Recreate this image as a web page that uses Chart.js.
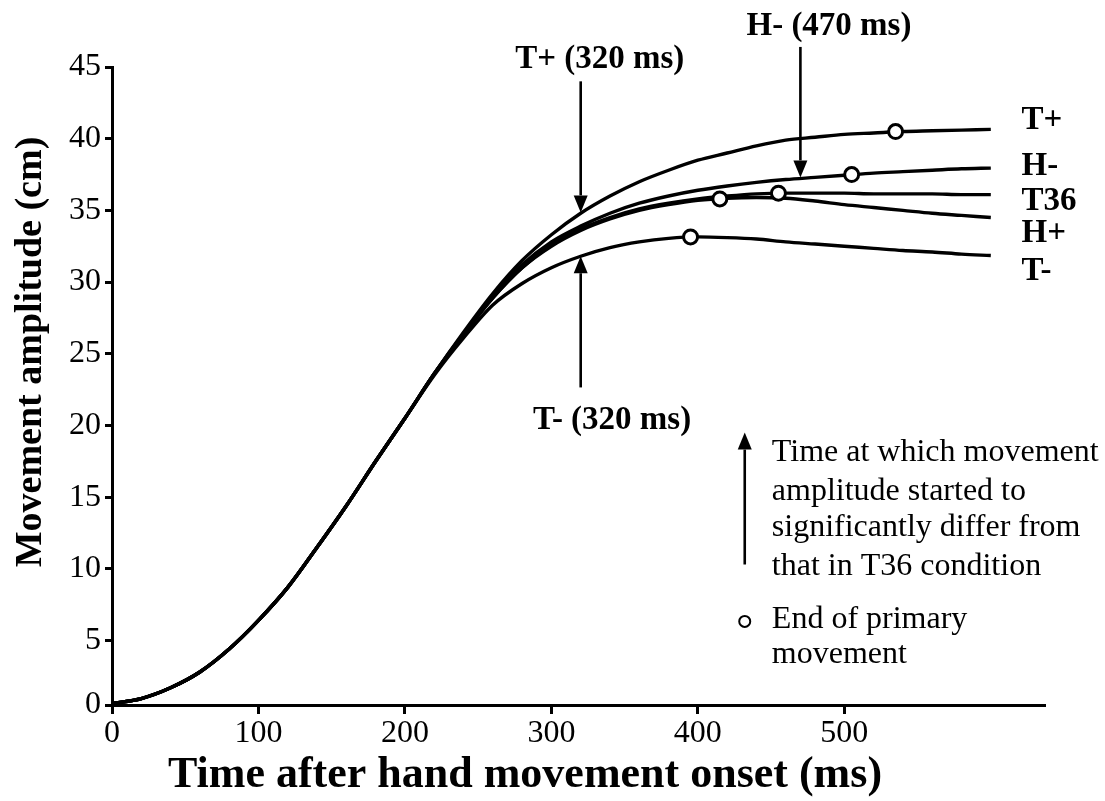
<!DOCTYPE html>
<html>
<head>
<meta charset="utf-8">
<script src="https://cdn.jsdelivr.net/npm/chart.js@4.4.1/dist/chart.umd.min.js"></script>
<style>
  html, body { margin: 0; padding: 0; background: #ffffff; }
  #wrap { width: 1105px; height: 801px; position: relative; }
</style>
</head>
<body>
<div id="wrap"><canvas id="c"></canvas></div>
<script>
// ---- data ----
const timeMs = [0,20,40,60,80,100,120,140,160,180,200,220,240,260,280,300,320,340,360,380,400,420,440,460,480,500,520,540,560,580,600];
const tPlus  = [0.6,0.95,1.7,2.8,4.4,6.4,8.7,11.5,14.4,17.5,20.5,23.6,26.5,29.2,31.5,33.3,34.8,36.0,37.0,37.8,38.5,39.0,39.5,39.9,40.1,40.3,40.4,40.5,40.55,40.6,40.65];
const hMinus = [0.6,0.95,1.7,2.8,4.4,6.4,8.7,11.5,14.4,17.5,20.5,23.6,26.4,29.0,31.2,32.8,33.9,34.8,35.5,36.0,36.4,36.7,36.95,37.15,37.3,37.45,37.6,37.7,37.8,37.9,37.95];
const t36    = [0.6,0.95,1.7,2.8,4.4,6.4,8.7,11.5,14.4,17.5,20.5,23.6,26.4,28.9,31.0,32.6,33.7,34.5,35.1,35.5,35.8,36.0,36.15,36.2,36.2,36.2,36.15,36.15,36.15,36.1,36.1];
const hPlus  = [0.6,0.95,1.7,2.8,4.4,6.4,8.7,11.5,14.4,17.5,20.5,23.6,26.3,28.9,31.0,32.5,33.6,34.4,35.0,35.4,35.7,35.85,35.9,35.85,35.65,35.4,35.2,35.0,34.8,34.65,34.5];
const tMinus = [0.6,0.95,1.7,2.8,4.4,6.4,8.7,11.5,14.4,17.5,20.5,23.5,26.1,28.4,29.9,31.0,31.8,32.4,32.8,33.05,33.15,33.1,33.0,32.8,32.65,32.5,32.35,32.2,32.1,31.95,31.85];

const seriesNames = ['T+','H-','T36','H+','T-'];
const endTimes  = [535, 505, 455, 415, 395];        // end of primary movement (ms)
const endValues = [40.5, 37.5, 36.2, 35.8, 33.15];  // amplitude at that time (cm)

const xTickValues = [0,100,200,300,400,500];
const yTickValues = [0.5,5,10,15,20,25,30,35,40,45];
const yTickLabels = ['0','5','10','15','20','25','30','35','40','45'];

// significance times (arrows)
const sigLabels = ['T+ (320 ms)','H- (470 ms)','T- (320 ms)'];
const sigTimes  = [320, 470, 320];

const xTitle = 'Time after hand movement onset (ms)';
const yTitle = 'Movement amplitude (cm)';

// ---- layout / annotation configuration ----
const FONT = '"Liberation Serif", "Times New Roman", Times, serif';
const arrows = [
  { t: 320, from: 44.0, to: 34.86 },
  { t: 470, from: 46.4, to: 37.3 },
  { t: 320, from: 22.65, to: 31.8 },
  { t: 432, from: 10.3, to: 19.5 }
];
const sigTextPos = [ { t: 333, v: 45.55 }, { t: 489.5, v: 47.8 }, { t: 341.4, v: 20.35 } ];
const endLabelPos = { t: 621, v: [41.3, 38.07, 35.6, 33.4, 30.75] };
const legendLines = ['Time at which movement','amplitude started to','significantly differ from','that in T36 condition'];
const legendLineV = [18.12, 15.39, 12.88, 10.16];
const legendCircle = { t: 432, v: 6.33 };
const legendCircleText = ['End of primary','movement'];
const legendCircleTextV = [6.46, 4.02];
const legendTextT = 450.5;
const titlePos = { x: { cx: 525, cy: 776, size: 44 }, y: { cx: 31, cy: 352, size: 38 } };

function pts(vals) { return timeMs.map((t, i) => ({ x: t, y: vals[i] })); }

const seriesValues = [tPlus, hMinus, t36, hPlus, tMinus];
const datasets = [{
  label: 'End of primary movement',
  data: endTimes.map((t, i) => ({ x: t, y: endValues[i] })),
  showLine: false,
  pointRadius: 7,
  pointBorderWidth: 3,
  pointBackgroundColor: '#ffffff',
  pointBorderColor: '#000000',
  order: 0
}].concat(seriesValues.map((vals, i) => ({
  label: seriesNames[i],
  data: pts(vals),
  borderColor: '#000000',
  borderWidth: 3.4,
  pointRadius: 0,
  fill: false,
  cubicInterpolationMode: 'monotone',
  order: 1
})));

const annotate = {
  id: 'annotate',
  afterDraw(chart) {
    const ctx = chart.ctx, xs = chart.scales.x, ys = chart.scales.y;
    const X = t => xs.getPixelForValue(t), Y = v => ys.getPixelForValue(v);
    ctx.save();
    ctx.fillStyle = '#000'; ctx.strokeStyle = '#000';
    // axis titles
    ctx.textAlign = 'center'; ctx.textBaseline = 'middle';
    ctx.font = 'bold ' + titlePos.x.size + 'px ' + FONT;
    ctx.fillText(xTitle, titlePos.x.cx, titlePos.x.cy);
    ctx.save();
    ctx.translate(titlePos.y.cx, titlePos.y.cy);
    ctx.rotate(-Math.PI / 2);
    ctx.font = 'bold ' + titlePos.y.size + 'px ' + FONT;
    ctx.fillText(yTitle, 0, 0);
    ctx.restore();
    // arrows
    arrows.forEach(a => {
      const x = X(a.t), y0 = Y(a.from), y1 = Y(a.to);
      const dir = y1 > y0 ? 1 : -1;
      const headL = 17, headW = 7;
      ctx.lineWidth = 2.6;
      ctx.beginPath(); ctx.moveTo(x, y0); ctx.lineTo(x, y1 - dir * headL); ctx.stroke();
      ctx.beginPath();
      ctx.moveTo(x, y1);
      ctx.lineTo(x - headW, y1 - dir * headL);
      ctx.lineTo(x + headW, y1 - dir * headL);
      ctx.closePath(); ctx.fill();
    });
    // significance labels
    ctx.font = 'bold 33px ' + FONT;
    ctx.textAlign = 'center'; ctx.textBaseline = 'middle';
    sigLabels.forEach((s, i) => ctx.fillText(s, X(sigTextPos[i].t), Y(sigTextPos[i].v)));
    // series end labels
    ctx.textAlign = 'left';
    seriesNames.forEach((s, i) => ctx.fillText(s, X(endLabelPos.t), Y(endLabelPos.v[i])));
    // legend
    ctx.font = '32px ' + FONT;
    legendLines.forEach((s, i) => ctx.fillText(s, X(legendTextT), Y(legendLineV[i])));
    legendCircleText.forEach((s, i) => ctx.fillText(s, X(legendTextT), Y(legendCircleTextV[i])));
    ctx.beginPath();
    ctx.lineWidth = 2;
    ctx.fillStyle = '#fff';
    ctx.arc(X(legendCircle.t), Y(legendCircle.v), 5.5, 0, Math.PI * 2);
    ctx.fill(); ctx.stroke();
    ctx.restore();
  }
};

new Chart(document.getElementById('c'), {
  type: 'line',
  data: { datasets },
  options: {
    responsive: true,
    maintainAspectRatio: false,
    animation: false,
    layout: { padding: { top: 67, right: 60, left: 0, bottom: 0 } },
    plugins: { legend: { display: false }, tooltip: { enabled: false } },
    scales: {
      x: {
        type: 'linear', min: 0, max: 637,
        afterBuildTicks: s => { s.ticks = xTickValues.map(v => ({ value: v })); },
        afterFit: s => { s.height = 96; },
        ticks: { color: '#000', font: { family: FONT, size: 32 }, padding: 0, maxRotation: 0 },
        grid: { drawOnChartArea: false, drawTicks: true, tickLength: 9, tickWidth: 3, tickColor: '#000' },
        border: { color: '#000', width: 3 },
        title: { display: false, text: xTitle }
      },
      y: {
        type: 'linear', min: 0.5, max: 45,
        afterBuildTicks: s => { s.ticks = yTickValues.map(v => ({ value: v })); },
        afterFit: s => { s.width = 112; },
        ticks: { color: '#000', font: { family: FONT, size: 32 }, padding: 4,
                 callback: (v) => yTickLabels[yTickValues.indexOf(v)] },
        grid: { drawOnChartArea: false, drawTicks: true, tickLength: 7, tickWidth: 3, tickColor: '#000' },
        border: { color: '#000', width: 3 },
        title: { display: false, text: yTitle }
      }
    }
  },
  plugins: [annotate]
});
</script>
</body>
</html>
